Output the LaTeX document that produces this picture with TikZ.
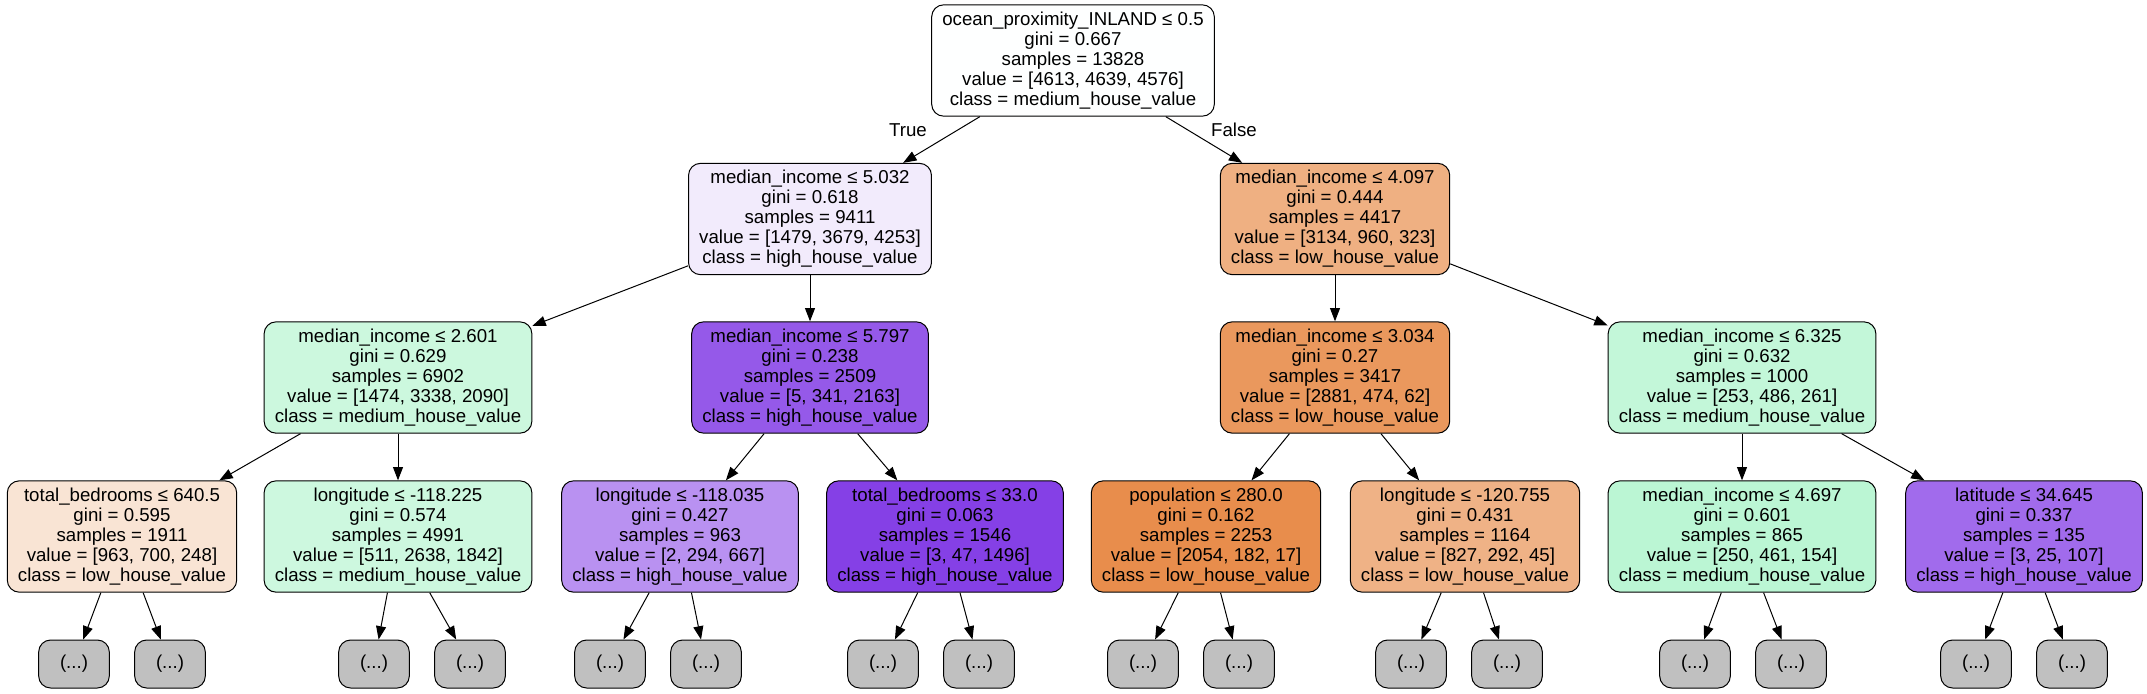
\documentclass[tikz,border=0pt]{standalone}
\usepackage{fontspec}
\setmainfont{Liberation Sans}
\usetikzlibrary{arrows.meta}
\definecolor{fill_root}{RGB}{254,255,255}
\definecolor{fill_l}{RGB}{242,235,252}
\definecolor{fill_r}{RGB}{239,176,130}
\definecolor{fill_ll}{RGB}{204,248,222}
\definecolor{fill_lr}{RGB}{149,89,233}
\definecolor{fill_rl}{RGB}{234,152,93}
\definecolor{fill_rr}{RGB}{195,247,217}
\definecolor{fill_lll}{RGB}{249,228,212}
\definecolor{fill_llr}{RGB}{205,248,223}
\definecolor{fill_lrl}{RGB}{185,145,241}
\definecolor{fill_lrr}{RGB}{133,64,230}
\definecolor{fill_rll}{RGB}{232,141,76}
\definecolor{fill_rlr}{RGB}{239,178,134}
\definecolor{fill_rrl}{RGB}{187,246,212}
\definecolor{fill_rrr}{RGB}{161,107,236}
\definecolor{leaf_gray}{RGB}{192,192,192}
\tikzset{
    split_node/.style={draw,line width=0.75pt,rounded corners=9pt,align=center,inner xsep=8pt,minimum height=83.5pt,font=\fontsize{14}{15}\selectfont},
    leaf_node/.style={draw,line width=0.75pt,fill=leaf_gray,rounded corners=9pt,minimum width=53pt,minimum height=36pt,font=\fontsize{14}{15}\selectfont},
    edge_arrow/.style={-{Triangle[length=10pt,width=7.5pt]},line width=0.75pt},
    edge_label/.style={font=\fontsize{14}{15}\selectfont},
}
\begin{document}
\begin{tikzpicture}[x=0.75pt,y=-0.75pt]
  \useasboundingbox (0,0) rectangle (2147,693);
  % Draw split nodes
  \node[split_node,fill=fill_root] (root) at (1073,60.5) {ocean\_proximity\_INLAND ≤ 0.5\\gini = 0.667\\samples = 13828\\value = [4613, 4639, 4576]\\class = medium\_house\_value};
  \node[split_node,fill=fill_l] (n_l) at (810,219) {median\_income ≤ 5.032\\gini = 0.618\\samples = 9411\\value = [1479, 3679, 4253]\\class = high\_house\_value};
  \node[split_node,fill=fill_r] (n_r) at (1335,219) {median\_income ≤ 4.097\\gini = 0.444\\samples = 4417\\value = [3134, 960, 323]\\class = low\_house\_value};
  \node[split_node,fill=fill_ll] (n_ll) at (398,377.5) {median\_income ≤ 2.601\\gini = 0.629\\samples = 6902\\value = [1474, 3338, 2090]\\class = medium\_house\_value};
  \node[split_node,fill=fill_lr] (n_lr) at (810,377.5) {median\_income ≤ 5.797\\gini = 0.238\\samples = 2509\\value = [5, 341, 2163]\\class = high\_house\_value};
  \node[split_node,fill=fill_rl] (n_rl) at (1335,377.5) {median\_income ≤ 3.034\\gini = 0.27\\samples = 3417\\value = [2881, 474, 62]\\class = low\_house\_value};
  \node[split_node,fill=fill_rr] (n_rr) at (1742,377.5) {median\_income ≤ 6.325\\gini = 0.632\\samples = 1000\\value = [253, 486, 261]\\class = medium\_house\_value};
  \node[split_node,fill=fill_lll] (n_lll) at (122,536.5) {total\_bedrooms ≤ 640.5\\gini = 0.595\\samples = 1911\\value = [963, 700, 248]\\class = low\_house\_value};
  \node[split_node,fill=fill_llr] (n_llr) at (398,536.5) {longitude ≤ -118.225\\gini = 0.574\\samples = 4991\\value = [511, 2638, 1842]\\class = medium\_house\_value};
  \node[split_node,fill=fill_lrl] (n_lrl) at (680,536.5) {longitude ≤ -118.035\\gini = 0.427\\samples = 963\\value = [2, 294, 667]\\class = high\_house\_value};
  \node[split_node,fill=fill_lrr] (n_lrr) at (945,536.5) {total\_bedrooms ≤ 33.0\\gini = 0.063\\samples = 1546\\value = [3, 47, 1496]\\class = high\_house\_value};
  \node[split_node,fill=fill_rll] (n_rll) at (1206,536.5) {population ≤ 280.0\\gini = 0.162\\samples = 2253\\value = [2054, 182, 17]\\class = low\_house\_value};
  \node[split_node,fill=fill_rlr] (n_rlr) at (1465,536.5) {longitude ≤ -120.755\\gini = 0.431\\samples = 1164\\value = [827, 292, 45]\\class = low\_house\_value};
  \node[split_node,fill=fill_rrl] (n_rrl) at (1742,536.5) {median\_income ≤ 4.697\\gini = 0.601\\samples = 865\\value = [250, 461, 154]\\class = medium\_house\_value};
  \node[split_node,fill=fill_rrr] (n_rrr) at (2024,536.5) {latitude ≤ 34.645\\gini = 0.337\\samples = 135\\value = [3, 25, 107]\\class = high\_house\_value};
  % Draw edges between split nodes
  \draw[edge_arrow] (root) -- (n_l);
  \draw[edge_arrow] (root) -- (n_r);
  \draw[edge_arrow] (n_l) -- (n_ll);
  \draw[edge_arrow] (n_l) -- (n_lr);
  \draw[edge_arrow] (n_r) -- (n_rl);
  \draw[edge_arrow] (n_r) -- (n_rr);
  \draw[edge_arrow] (n_ll) -- (n_lll);
  \draw[edge_arrow] (n_ll) -- (n_llr);
  \draw[edge_arrow] (n_lr) -- (n_lrl);
  \draw[edge_arrow] (n_lr) -- (n_lrr);
  \draw[edge_arrow] (n_rl) -- (n_rll);
  \draw[edge_arrow] (n_rl) -- (n_rlr);
  \draw[edge_arrow] (n_rr) -- (n_rrl);
  \draw[edge_arrow] (n_rr) -- (n_rrr);
  \node[edge_label] (lbl_true) at (908,130) {True};
  \node[edge_label] (lbl_false) at (1234,130) {False};
  % Draw truncated subtrees
  \foreach \src/\xa/\xb in {n_lll/74/170,n_llr/374/470,n_lrl/610/706,n_lrr/883/979,n_rll/1143/1239,n_rlr/1411/1507,n_rrl/1695/1791,n_rrr/1976/2072}{
    \node[leaf_node] (\src_a) at (\xa,664) {(...)};
    \node[leaf_node] (\src_b) at (\xb,664) {(...)};
    \draw[edge_arrow] (\src) -- (\src_a);
    \draw[edge_arrow] (\src) -- (\src_b);
  }
\end{tikzpicture}
\end{document}
